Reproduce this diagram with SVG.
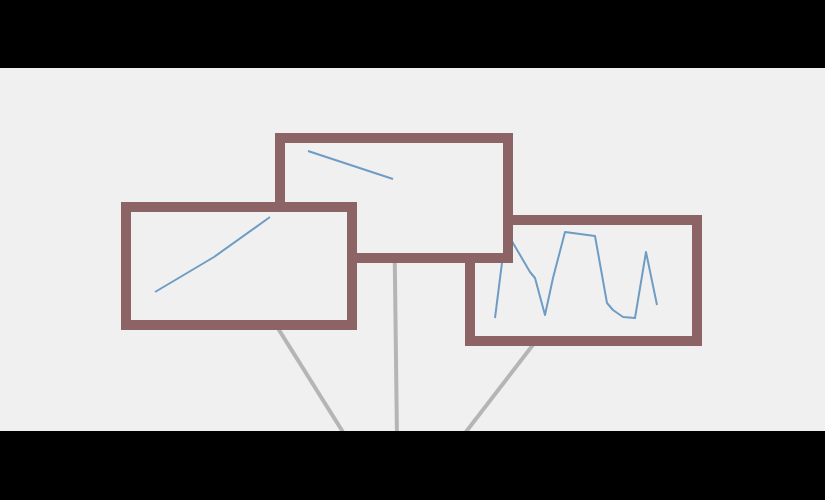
<svg xmlns="http://www.w3.org/2000/svg" width="825" height="500" viewBox="0 0 825 500">
<style>
.edge{stroke:#b5b5b5;stroke-width:4;fill:none}
.box{fill:#f0f0f0;stroke:#8c6465;stroke-width:10}
.spark{fill:none;stroke:#6f9cc4;stroke-width:2;stroke-linejoin:round}
.bar{fill:#000}
</style>
<rect x="0" y="0" width="825" height="500" fill="#f0f0f0"/>
<g id="connectors">
<line class="edge" x1="239" y1="266" x2="398" y2="520"/>
<line class="edge" x1="394" y1="198" x2="398" y2="520"/>
<line class="edge" x1="583" y1="280" x2="398" y2="520"/>
</g>
<g id="node3">
<rect class="box" x="470" y="220" width="227" height="121"/>
<polyline class="spark" points="495,318 506,231 530,272 535,278 545,315 553,278 565,232 595,236 607,303 613,310 623,317 635,318 646,252 657,305"/>
</g>
<g id="node2">
<rect class="box" x="280" y="138" width="228" height="120"/>
<polyline class="spark" points="308,151 393,179"/>
</g>
<g id="node1">
<rect class="box" x="126" y="207" width="226" height="118"/>
<polyline class="spark" points="155,292 214,257 270,217"/>
</g>
<rect class="bar" x="0" y="0" width="825" height="68"/>
<rect class="bar" x="0" y="431" width="825" height="69"/>
</svg>
